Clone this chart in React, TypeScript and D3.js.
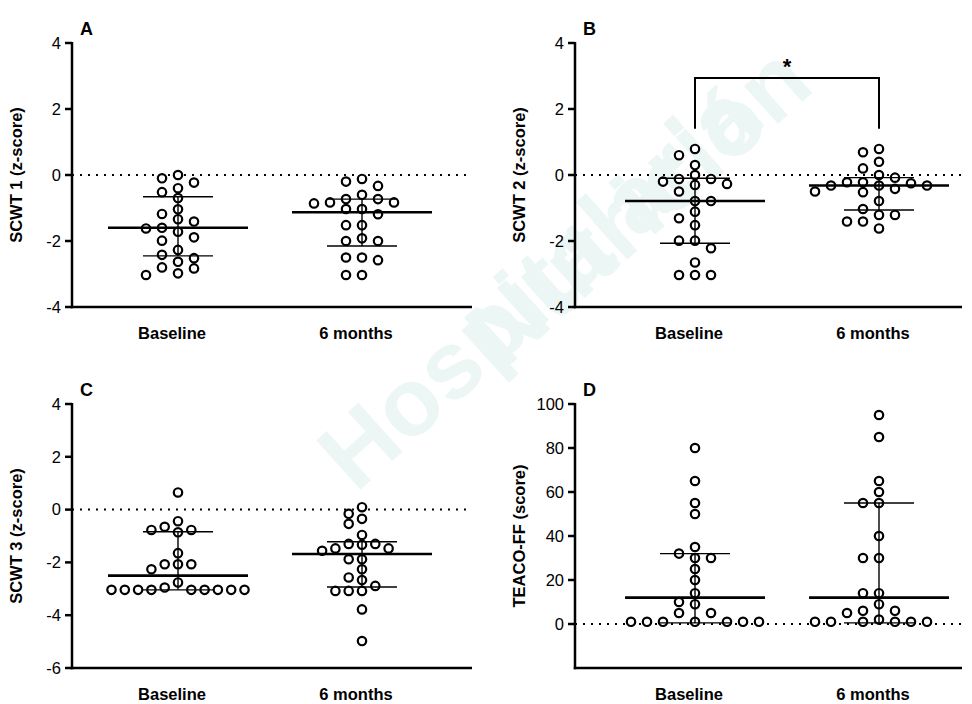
import React from "react";
import * as d3 from "d3";

// categories
const CATS = ["Baseline", "6 months"];

// SCWT 1 (A)
const scwt1Baseline = [0, -0.1, -0.23, -0.4, -0.52, -0.7, -1.04, -1.18, -1.34, -1.41, -1.6, -1.62, -1.72, -1.89, -1.99, -2.27, -2.42, -2.52, -2.63, -2.8, -2.83, -2.98, -3.03];
const scwt1Month6 = [-0.12, -0.2, -0.33, -0.6, -0.73, -0.73, -0.83, -0.83, -0.86, -1.03, -1.03, -1.19, -1.52, -1.52, -1.92, -2.0, -2.0, -2.5, -2.5, -2.58, -3.03, -3.03];

// SCWT 2 (B)
const scwt2Baseline = [0.79, 0.6, 0.3, 0, -0.12, -0.12, -0.2, -0.27, -0.3, -0.5, -0.79, -0.79, -1.11, -1.31, -1.52, -1.99, -1.99, -2.22, -2.65, -3.03, -3.03, -3.03];
const scwt2Month6 = [0.79, 0.69, 0.4, 0.2, 0, -0.08, -0.22, -0.22, -0.25, -0.32, -0.32, -0.32, -0.42, -0.5, -0.52, -0.79, -1.03, -1.21, -1.21, -1.41, -1.41, -1.62];

// SCWT 3 (C)
const scwt3Baseline = [0.65, -0.44, -0.65, -0.77, -0.77, -0.86, -1.65, -2.07, -2.07, -2.07, -2.26, -2.76, -2.95, -3.04, -3.04, -3.04, -3.04, -3.04, -3.04, -3.04, -3.04, -3.04];
const scwt3Month6 = [0.09, -0.16, -0.35, -0.54, -0.96, -1.3, -1.3, -1.33, -1.47, -1.47, -1.56, -1.88, -1.88, -2.26, -2.57, -2.67, -2.89, -3.08, -3.08, -3.08, -3.78, -4.98];

// TEACO-FF (D)
const teacoBaseline = [80, 65, 55, 50, 35, 32, 30, 30, 25, 20, 14, 10, 9, 5, 5, 1, 1, 1, 1, 1, 1, 1];
const teacoMonth6 = [95, 85, 65, 60, 55, 55, 40, 30, 30, 14, 14, 9, 6, 6, 5, 2, 1, 1, 1, 1, 1, 1];

// median and interquartile range [baseline, 6 months]
const medians = { A: [-1.6, -1.13], B: [-0.79, -0.32], C: [-2.5, -1.68], D: [12, 12] };
const q3s = { A: [-0.66, -0.73], B: [-0.1, -0.08], C: [-0.84, -1.22], D: [32, 55] };
const q1s = { A: [-2.45, -2.15], B: [-2.07, -1.06], C: [-3.04, -2.93], D: [0.5, 0.5] };

// axis ticks
const zTicks = [-4, -2, 0, 2, 4];
const z3Ticks = [-6, -4, -2, 0, 2, 4];
const teacoTicks = [0, 20, 40, 60, 80, 100];

const FONT = "'Liberation Sans', Arial, sans-serif";

// simple column beeswarm: values sorted high to low, pushed sideways on collision
function swarm(values, y, dx, minDy = 9.6) {
  const placed = [];
  const sorted = [...values].sort((a, b) => b - a);
  sorted.forEach(v => {
    const py = y(v);
    for (let i = 0; i < 40; i++) {
      const k = i === 0 ? 0 : (i % 2 === 1 ? -Math.ceil(i / 2) : Math.ceil(i / 2));
      const hit = placed.some(p => p.k === k && Math.abs(p.y - py) < minDy);
      if (!hit) {
        placed.push({ k, y: py, x: k * dx });
        break;
      }
    }
  });
  return placed;
}

const Panel = ({ id, left, top, bottom, right, centers, domain, ticks, title, series, dx }) => {
  const y = d3.scaleLinear().domain(domain).range([bottom, top]);
  const x = d3.scalePoint().domain(CATS).range(centers);

  return (
    <g>
      {/* dotted zero line */}
      <line x1={left} x2={right} y1={y(0)} y2={y(0)} stroke="#000" strokeWidth={2} strokeDasharray="2 6" />

      {CATS.map((c, i) => {
        const cx = x(c);
        const pts = swarm(series[i], y, dx);
        return (
          <g key={c}>
            {pts.map((p, j) => (
              <circle key={j} cx={cx + p.x} cy={p.y} r={4.2} fill="#fff" stroke="#000" strokeWidth={2.2} />
            ))}
            <line x1={cx} x2={cx} y1={y(q1s[id][i])} y2={y(q3s[id][i])} stroke="#000" strokeWidth={1.4} />
            <line x1={cx - 35} x2={cx + 35} y1={y(q3s[id][i])} y2={y(q3s[id][i])} stroke="#000" strokeWidth={1.4} />
            <line x1={cx - 35} x2={cx + 35} y1={y(q1s[id][i])} y2={y(q1s[id][i])} stroke="#000" strokeWidth={1.4} />
            <line x1={cx - 70} x2={cx + 70} y1={y(medians[id][i])} y2={y(medians[id][i])} stroke="#000" strokeWidth={2.6} />
            <text x={cx - 6} y={bottom + 32} textAnchor="middle" fontFamily={FONT} fontWeight="bold" fontSize={16.5}>{c}</text>
          </g>
        );
      })}

      {/* axes */}
      <line x1={left} x2={left} y1={top - 1} y2={bottom + 1.25} stroke="#000" strokeWidth={2.5} />
      <line x1={left - 1.25} x2={right} y1={bottom} y2={bottom} stroke="#000" strokeWidth={2.5} />
      {ticks.map(t => (
        <g key={t}>
          <line x1={left - 7} x2={left} y1={y(t)} y2={y(t)} stroke="#000" strokeWidth={2.5} />
          <text x={left - 11} y={y(t)} dy="0.35em" textAnchor="end" fontFamily={FONT} fontSize={16.5}>{t}</text>
        </g>
      ))}
      <text transform={`translate(${left - 50},${(top + bottom) / 2}) rotate(-90)`} textAnchor="middle" fontFamily={FONT} fontWeight="bold" fontSize={16.5}>{title}</text>
      <text x={left + 8} y={top - 8} fontFamily={FONT} fontWeight="bold" fontSize={18}>{id}</text>
    </g>
  );
};

export default function App() {
  const yB = d3.scaleLinear().domain([-4, 4]).range([307, 43]);
  return (
    <svg width={972} height={704} style={{ position: "absolute", left: 0, top: 0, background: "#fff" }}>
      {/* watermark */}
      <g fill="#3aa39a" opacity={0.09} fontFamily={FONT} fontWeight="bold" fontSize={96}>
        <text transform="translate(660,230) rotate(-42)" textAnchor="middle">Nutrición</text>
        <text transform="translate(560,310) rotate(-42)" textAnchor="middle">Hospitalaria</text>
      </g>

      <Panel id="A" left={72} top={43} bottom={307} right={472} centers={[178, 362]} domain={[-4, 4]} ticks={zTicks}
        title="SCWT 1 (z-score)" series={[scwt1Baseline, scwt1Month6]} dx={16} />
      <Panel id="B" left={575} top={43} bottom={307} right={962} centers={[695, 879]} domain={[-4, 4]} ticks={zTicks}
        title="SCWT 2 (z-score)" series={[scwt2Baseline, scwt2Month6]} dx={16} />
      <Panel id="C" left={72} top={404} bottom={668} right={472} centers={[178, 362]} domain={[-6, 4]} ticks={z3Ticks}
        title="SCWT 3 (z-score)" series={[scwt3Baseline, scwt3Month6]} dx={13.3} />
      <Panel id="D" left={575} top={404} bottom={668} right={962} centers={[695, 879]} domain={[-20, 100]} ticks={teacoTicks}
        title="TEACO-FF (score)" series={[teacoBaseline, teacoMonth6]} dx={16} />

      {/* significance bracket in B */}
      <path d={`M695,${yB(1.4)}V${yB(2.94)}H879V${yB(1.4)}`} fill="none" stroke="#000" strokeWidth={2} />
      <text x={787} y={yB(2.94) - 4} textAnchor="middle" fontFamily={FONT} fontWeight="bold" fontSize={22}>*</text>
    </svg>
  );
}
